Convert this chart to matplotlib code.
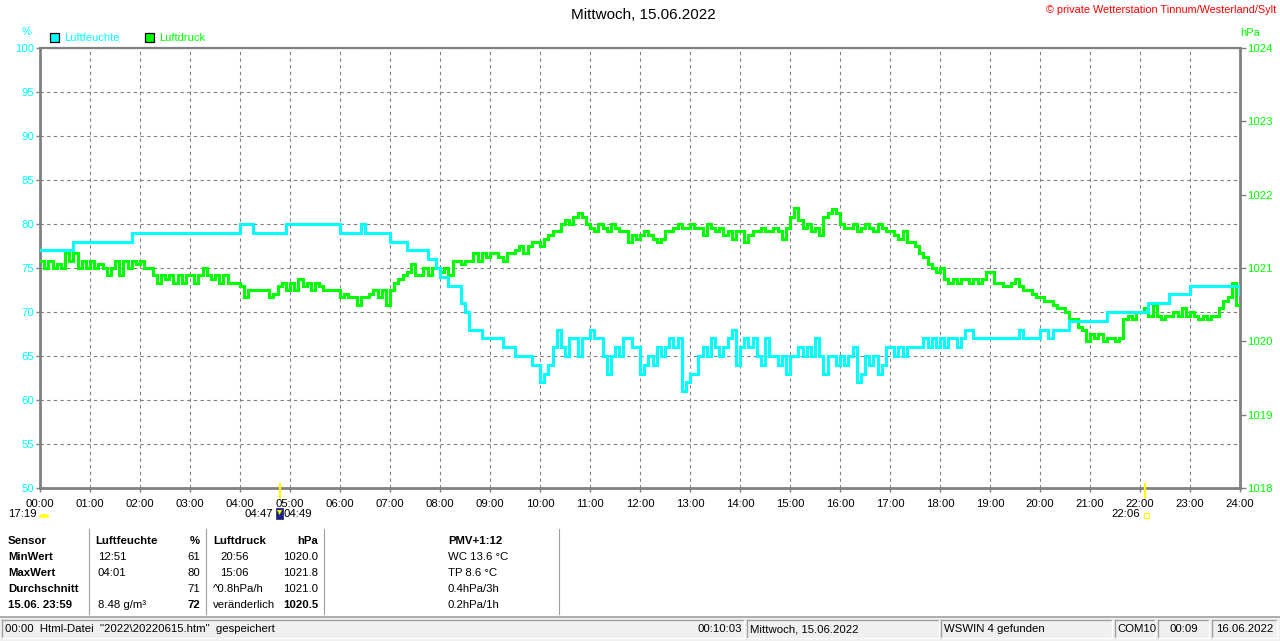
import numpy as np
import matplotlib
matplotlib.use("Agg")
import matplotlib.pyplot as plt
from matplotlib.patches import Rectangle, Wedge, Polygon
from matplotlib.lines import Line2D

plt.rcParams['font.family'] = ['Liberation Sans', 'DejaVu Sans']

# ---------------- data (5-minute samples, 00:00 .. 24:00) ----------------
minutes = np.arange(0, 24 * 60 + 1, 5)

hum_by_hour = [
    [77, 77, 77, 77, 77, 77, 77, 77, 78, 78, 78, 78],
    [78, 78, 78, 78, 78, 78, 78, 78, 78, 78, 79, 79],
    [79, 79, 79, 79, 79, 79, 79, 79, 79, 79, 79, 79],
    [79, 79, 79, 79, 79, 79, 79, 79, 79, 79, 79, 79],
    [80, 80, 80, 79, 79, 79, 79, 79, 79, 79, 79, 80],
    [80, 80, 80, 80, 80, 80, 80, 80, 80, 80, 80, 80],
    [79, 79, 79, 79, 79, 80, 79, 79, 79, 79, 79, 79],
    [78, 78, 78, 78, 77, 77, 77, 77, 77, 76, 76, 75],
    [74, 74, 73, 73, 73, 71, 70, 68, 68, 68, 67, 67],
    [67, 67, 67, 66, 66, 66, 65, 65, 65, 65, 64, 64],
    [62, 63, 64, 66, 68, 66, 65, 67, 67, 65, 67, 67],
    [68, 67, 67, 65, 63, 65, 66, 65, 67, 67, 66, 66],
    [63, 64, 65, 64, 66, 65, 66, 67, 66, 67, 61, 62],
    [63, 63, 65, 66, 65, 67, 66, 65, 66, 67, 68, 64],
    [66, 67, 66, 67, 65, 64, 67, 65, 65, 64, 65, 63],
    [65, 65, 66, 65, 66, 65, 67, 65, 63, 65, 65, 64],
    [65, 64, 65, 66, 62, 63, 65, 64, 65, 63, 64, 66],
    [66, 65, 66, 65, 66, 66, 66, 66, 67, 66, 67, 66],
    [67, 66, 67, 67, 66, 67, 68, 68, 67, 67, 67, 67],
    [67, 67, 67, 67, 67, 67, 67, 68, 67, 67, 67, 67],
    [68, 68, 67, 68, 68, 68, 68, 69, 69, 69, 69, 69],
    [69, 69, 69, 69, 70, 70, 70, 70, 70, 70, 70, 70],
    [70, 70, 71, 71, 71, 71, 71, 72, 72, 72, 72, 72],
    [73, 73, 73, 73, 73, 73, 73, 73, 73, 73, 73, 73],
]
hum_end = 72

press_by_hour = [
    [1021.1, 1021.0, 1021.1, 1021.0, 1021.05, 1021.0, 1021.2, 1021.1, 1021.2, 1021.0, 1021.1, 1021.0],
    [1021.1, 1021.0, 1021.05, 1021.0, 1020.9, 1021.0, 1021.1, 1020.9, 1021.1, 1021.0, 1021.1, 1021.05],
    [1021.1, 1021.0, 1021.0, 1020.9, 1020.8, 1020.9, 1020.85, 1020.9, 1020.8, 1020.9, 1020.8, 1020.9],
    [1020.9, 1020.8, 1020.9, 1021.0, 1020.9, 1020.85, 1020.9, 1020.8, 1020.9, 1020.8, 1020.8, 1020.8],
    [1020.75, 1020.6, 1020.7, 1020.7, 1020.7, 1020.7, 1020.7, 1020.6, 1020.65, 1020.75, 1020.8, 1020.7],
    [1020.8, 1020.7, 1020.85, 1020.75, 1020.8, 1020.7, 1020.8, 1020.75, 1020.7, 1020.7, 1020.7, 1020.7],
    [1020.6, 1020.65, 1020.6, 1020.6, 1020.5, 1020.6, 1020.6, 1020.65, 1020.7, 1020.6, 1020.7, 1020.5],
    [1020.7, 1020.8, 1020.85, 1020.9, 1020.95, 1021.05, 1020.9, 1020.9, 1021.0, 1020.9, 1021.0, 1021.0],
    [1020.95, 1021.0, 1020.9, 1021.1, 1021.1, 1021.05, 1021.1, 1021.1, 1021.2, 1021.1, 1021.2, 1021.15],
    [1021.2, 1021.2, 1021.15, 1021.1, 1021.2, 1021.2, 1021.25, 1021.3, 1021.2, 1021.3, 1021.35, 1021.35],
    [1021.3, 1021.4, 1021.45, 1021.5, 1021.5, 1021.6, 1021.65, 1021.6, 1021.7, 1021.75, 1021.7, 1021.6],
    [1021.55, 1021.5, 1021.6, 1021.55, 1021.5, 1021.6, 1021.55, 1021.5, 1021.5, 1021.35, 1021.45, 1021.4],
    [1021.45, 1021.5, 1021.45, 1021.4, 1021.35, 1021.4, 1021.5, 1021.5, 1021.55, 1021.6, 1021.55, 1021.55],
    [1021.6, 1021.55, 1021.55, 1021.45, 1021.6, 1021.55, 1021.5, 1021.55, 1021.45, 1021.5, 1021.4, 1021.5],
    [1021.5, 1021.35, 1021.45, 1021.5, 1021.5, 1021.55, 1021.5, 1021.5, 1021.55, 1021.5, 1021.4, 1021.55],
    [1021.7, 1021.82, 1021.65, 1021.55, 1021.6, 1021.5, 1021.55, 1021.45, 1021.7, 1021.75, 1021.8, 1021.75],
    [1021.6, 1021.55, 1021.55, 1021.6, 1021.5, 1021.55, 1021.6, 1021.55, 1021.5, 1021.6, 1021.55, 1021.5],
    [1021.5, 1021.45, 1021.4, 1021.5, 1021.35, 1021.35, 1021.3, 1021.2, 1021.15, 1021.05, 1021.0, 1020.95],
    [1021.0, 1020.85, 1020.8, 1020.85, 1020.8, 1020.85, 1020.85, 1020.8, 1020.85, 1020.8, 1020.85, 1020.95],
    [1020.95, 1020.8, 1020.8, 1020.75, 1020.75, 1020.8, 1020.85, 1020.75, 1020.7, 1020.7, 1020.65, 1020.6],
    [1020.6, 1020.55, 1020.55, 1020.5, 1020.45, 1020.45, 1020.4, 1020.3, 1020.3, 1020.2, 1020.15, 1020.0],
    [1020.1, 1020.05, 1020.1, 1020.0, 1020.05, 1020.05, 1020.0, 1020.05, 1020.3, 1020.35, 1020.3, 1020.4],
    [1020.4, 1020.45, 1020.35, 1020.5, 1020.35, 1020.3, 1020.35, 1020.35, 1020.4, 1020.35, 1020.45, 1020.35],
    [1020.4, 1020.35, 1020.3, 1020.35, 1020.3, 1020.35, 1020.35, 1020.45, 1020.55, 1020.6, 1020.8, 1020.5],
]
press_end = 1020.5

humidity = [v for h in hum_by_hour for v in h] + [hum_end]
pressure = [v for h in press_by_hour for v in h] + [press_end]
hours = minutes / 60.0

x_ticks = list(range(0, 25))
x_labels = [f"{h:02d}:00" for h in x_ticks]
hum_ticks = list(range(50, 101, 5))
press_ticks = list(range(1018, 1025))

title = "Mittwoch, 15.06.2022"
copyright_txt = "\u00a9 private Wetterstation Tinnum/Westerland/Sylt"

table_rows = [
    ["Sensor", "Luftfeuchte", "%", "Luftdruck", "hPa", "PMV+1:12"],
    ["MinWert", "12:51", "61", "20:56", "1020.0", "WC 13.6 \u00b0C"],
    ["MaxWert", "04:01", "80", "15:06", "1021.8", "TP 8.6 \u00b0C"],
    ["Durchschnitt", "", "71", "^0.8hPa/h", "1021.0", "0.4hPa/3h"],
    ["15.06. 23:59", "8.48 g/m\u00b3", "72", "ver\u00e4nderlich", "1020.5", "0.2hPa/1h"],
]

status_texts = ["00:00  Html-Datei  \"2022\\20220615.htm\"  gespeichert", "00:10:03",
                "Mittwoch, 15.06.2022", "WSWIN 4 gefunden", "COM10", "00:09", "16.06.2022"]

CYAN = "#00FFFF"
GREEN = "#00FF00"
GRAY = "#808080"

W, H = 1280, 641
fig = plt.figure(figsize=(W / 100, H / 100), dpi=100)
fig.patch.set_facecolor("white")


def fx(x):
    return x / W


def fy(y):
    return 1 - y / H


ax = fig.add_axes([fx(40), fy(488), 1200 / W, 440 / H])
ax.set_xlim(0, 24)
ax.set_ylim(50, 100)
ax.set_xticks(x_ticks)
ax.set_xticklabels(x_labels)
ax.set_yticks(hum_ticks)
ax.tick_params(axis='x', colors=GRAY, labelcolor='black', labelsize=8.2, length=3, width=1, pad=5)
ax.tick_params(axis='y', colors=GRAY, labelcolor=CYAN, labelsize=8.2, length=3, width=1, pad=1)
ax.grid(True, color=GRAY, linestyle=(0, (3, 3)), linewidth=0.8)
for s in ax.spines.values():
    s.set_color(GRAY)
    s.set_linewidth(2.0)
ax.spines['top'].set_linewidth(1.6)

ax2 = ax.twinx()
ax2.set_ylim(1018, 1024)
ax2.set_yticks(press_ticks)
ax2.tick_params(axis='y', colors=GRAY, labelcolor=GREEN, labelsize=8.2, length=4, width=1, pad=1)
for s in ax2.spines.values():
    s.set_visible(False)
ax2.step(hours, pressure, where='post', color=GREEN, lw=2.2, solid_joinstyle='miter')

ax3 = ax.twinx()
ax3.set_ylim(50, 100)
ax3.set_yticks([])
for s in ax3.spines.values():
    s.set_visible(False)
ax3.step(hours, humidity, where='post', color=CYAN, lw=2.2, solid_joinstyle='miter')

# sunrise / sunset markers across bottom axis
trans = ax.get_xaxis_transform()
for t in (4 + 48 / 60, 22 + 6 / 60):
    ax.plot([t, t], [0.01, -0.021], color="#FFFF00", lw=1.6, transform=trans, clip_on=False, zorder=5)

# titles & labels
fig.text(fx(643), fy(15), title, ha='center', va='center', fontsize=11, color='black')
fig.text(fx(1276), fy(10), copyright_txt, ha='right', va='center', fontsize=7.8, color='#FF0000')
fig.text(fx(27), fy(32), "%", ha='center', va='center', fontsize=8, color=CYAN)
fig.text(fx(1250), fy(33), "hPa", ha='center', va='center', fontsize=8, color=GREEN)

# legend
fig.patches.append(Rectangle((fx(50), fy(42)), 9 / W, 9 / H, transform=fig.transFigure,
                             facecolor=CYAN, edgecolor='black', lw=0.9))
fig.text(fx(64), fy(38), "Luftfeuchte", ha='left', va='center', fontsize=8, color=CYAN)
fig.patches.append(Rectangle((fx(145), fy(42)), 9 / W, 9 / H, transform=fig.transFigure,
                             facecolor=GREEN, edgecolor='black', lw=0.9))
fig.text(fx(159), fy(38), "Luftdruck", ha='left', va='center', fontsize=8, color=GREEN)

# sun/moon info below axis
fig.text(fx(8), fy(514), "17:19", ha='left', va='center', fontsize=8.2, color='black')
fig.patches.append(Wedge((fx(44), fy(517)), 4.5 / W, 0, 180, transform=fig.transFigure,
                         facecolor='#FFFF00', edgecolor='#FFFF00'))
fig.text(fx(273), fy(514), "04:47", ha='right', va='center', fontsize=8.2, color='black')
fig.patches.append(Rectangle((fx(276), fy(519)), 7 / W, 11 / H, transform=fig.transFigure,
                             facecolor='#1A237E', edgecolor='#1A237E', lw=0.5))
fig.patches.append(Polygon([(fx(277), fy(510)), (fx(282), fy(510)), (fx(279.5), fy(515))],
                           closed=True, transform=fig.transFigure, facecolor='#FFFF00', edgecolor='none'))
fig.text(fx(284), fy(514), "04:49", ha='left', va='center', fontsize=8.2, color='black')
fig.text(fx(1140), fy(514), "22:06", ha='right', va='center', fontsize=8.2, color='black')
fig.patches.append(Rectangle((fx(1144), fy(518)), 5 / W, 5 / H, transform=fig.transFigure,
                             facecolor='none', edgecolor='#FFFF00', lw=0.8))

# table
row_y = [541, 557, 573, 589, 605]
for r, row in enumerate(table_rows):
    y = fy(row_y[r])
    hdr = (r == 0)
    last = (r == 4)
    fig.text(fx(8), y, row[0], ha='left', va='center', fontsize=8.2,
             fontweight='bold', color='black')
    fig.text(fx(95 if hdr else 98), y, row[1], ha='left', va='center', fontsize=8.2,
             fontweight='bold' if hdr else 'normal', color='black')
    fig.text(fx(200), y, row[2], ha='right', va='center', fontsize=8.2,
             fontweight='bold' if (hdr or last) else 'normal', color='black')
    x3 = 213 if (hdr or r >= 3) else 220
    fig.text(fx(x3), y, row[3], ha='left', va='center', fontsize=8.2,
             fontweight='bold' if hdr else 'normal', color='black')
    fig.text(fx(318), y, row[4], ha='right', va='center', fontsize=8.2,
             fontweight='bold' if (hdr or last) else 'normal', color='black')
    fig.text(fx(448), y, row[5], ha='left', va='center', fontsize=8.2,
             fontweight='bold' if hdr else 'normal', color='black')

for xs in (89, 206, 324, 559):
    fig.add_artist(Line2D([fx(xs), fx(xs)], [fy(529), fy(614)], color='#A0A0A0', lw=0.8))

# status bar
fig.patches.append(Rectangle((0, 0), 1, fy(617), transform=fig.transFigure,
                             facecolor='#F0F0F0', edgecolor='none'))
fig.add_artist(Line2D([0, 1], [fy(617), fy(617)], color='#A0A0A0', lw=1.2))
panels = [(2, 744), (747, 939), (941, 1112), (1115, 1155), (1158, 1209), (1212, 1277)]
for (a, b) in panels:
    fig.add_artist(Line2D([fx(a), fx(b)], [fy(620), fy(620)], color='#A0A0A0', lw=1))
    fig.add_artist(Line2D([fx(a), fx(a)], [fy(620), fy(638)], color='#A0A0A0', lw=1))
    fig.add_artist(Line2D([fx(a), fx(b)], [fy(638), fy(638)], color='white', lw=1))
    fig.add_artist(Line2D([fx(b), fx(b)], [fy(620), fy(638)], color='white', lw=1))

sy = fy(629)
fig.text(fx(5), sy, status_texts[0], ha='left', va='center', fontsize=8.2, color='black')
fig.text(fx(742), sy, status_texts[1], ha='right', va='center', fontsize=8.2, color='black')
fig.text(fx(750), sy, status_texts[2], ha='left', va='center', fontsize=8.2, color='black')
fig.text(fx(944), sy, status_texts[3], ha='left', va='center', fontsize=8.2, color='black')
fig.text(fx(1117), sy, status_texts[4], ha='left', va='center', fontsize=8.2, color='black')
fig.text(fx(1184), sy, status_texts[5], ha='center', va='center', fontsize=8.2, color='black')
fig.text(fx(1216), sy, status_texts[6], ha='left', va='center', fontsize=8.2, color='black')

fig.savefig("out.png", dpi=100)
